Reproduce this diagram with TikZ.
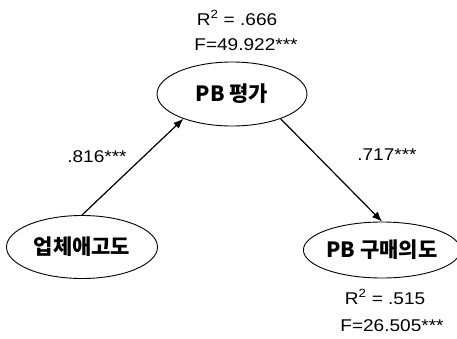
\documentclass[tikz,border=0pt]{standalone}
\usepackage{fontspec}
\setmainfont{Liberation Sans}
\newfontfamily\statfont[FakeStretch=1.12]{Liberation Sans}
\newfontfamily\kr{Noto Sans CJK KR}
\usetikzlibrary{arrows.meta,shapes.geometric}
\begin{document}
\begin{tikzpicture}[x=1pt,y=-1pt,
  var/.style={draw,ellipse,line width=0.9pt,inner sep=0pt,font=\kr\bfseries\fontsize{21}{25}\selectfont},
  path/.style={line width=1.2pt,-{Latex[length=10pt,width=8pt]}},
  stat/.style={font=\statfont\fontsize{17}{20}\selectfont,inner sep=0pt}]
\useasboundingbox (0,0) rectangle (457,338);
\node[var,minimum width=150pt,minimum height=64pt] (T) at (232,94) {PB 평가};
\node[var,minimum width=151pt,minimum height=63pt] (L) at (82,247) {업체애고도};
\node[var,minimum width=149pt,minimum height=56pt] (R) at (382,250) {PB 구매의도};
\node[stat] (t1) at (237,18) {R\textsuperscript{2} = .666};
\node[stat] (t2) at (246,45) {F=49.922***};
\node[stat] (b1) at (385,297) {R\textsuperscript{2} = .515};
\node[stat] (b2) at (392,326) {F=26.505***};
\draw[path] (L.north) -- (T.207);
\draw[path] (T.333) -- (R.north);
\node[stat] (p1) at (97,157) {.816***};
\node[stat] (p2) at (387,155) {.717***};
\end{tikzpicture}
\end{document}
